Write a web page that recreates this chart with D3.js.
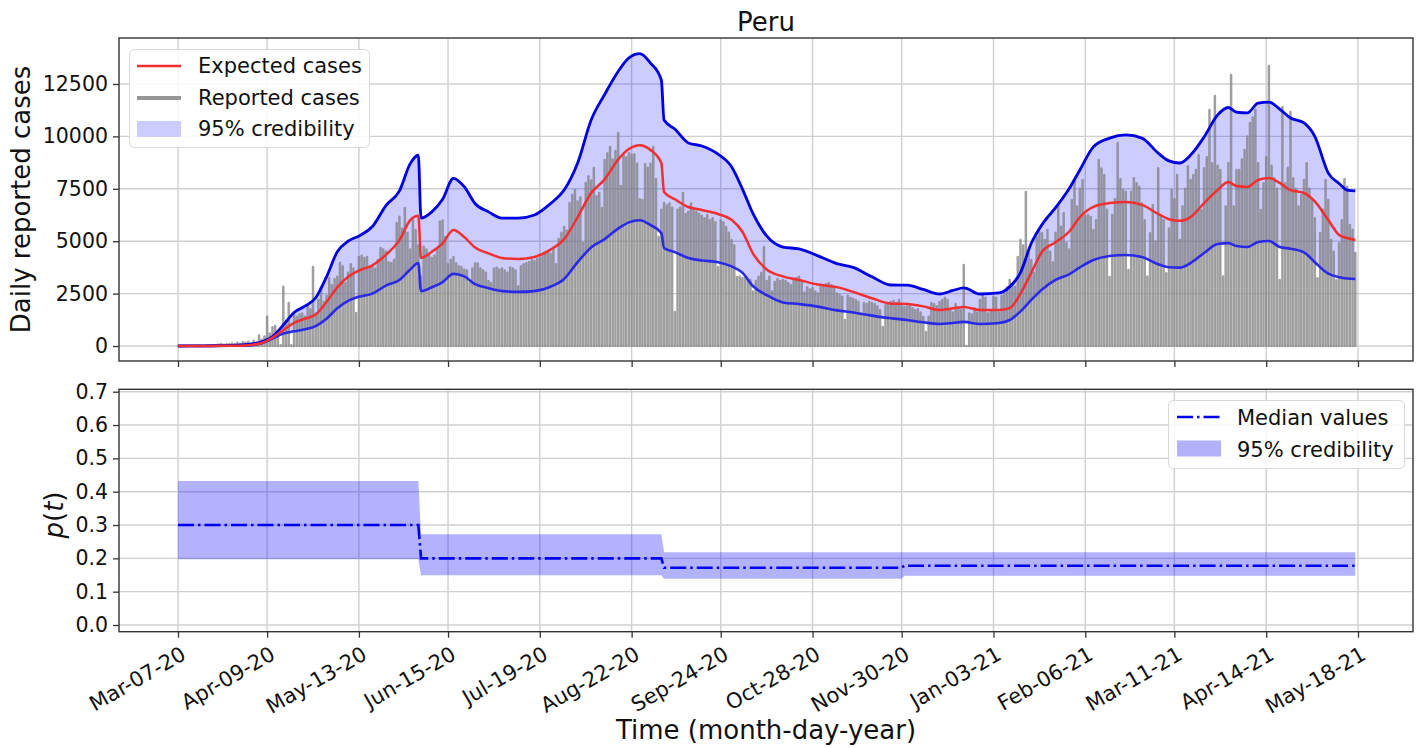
<!DOCTYPE html>
<html>
<head>
<meta charset="utf-8">
<script src="https://cdn.jsdelivr.net/npm/d3@7"></script>
<style>
  body { margin: 0; background: #fff; }
  svg { font-family: 'DejaVu Sans', sans-serif; }
</style>
</head>
<body>
<div id="graf"></div>
<script>
// day 0 = Mar-07-2020
const startDay = Date.UTC(2020, 2, 7)
const day = d => new Date(startDay + d * 864e5)

const tickLabels = ['Mar-07-20', 'Apr-09-20', 'May-13-20', 'Jun-15-20', 'Jul-19-20', 'Aug-22-20', 'Sep-24-20',
  'Oct-28-20', 'Nov-30-20', 'Jan-03-21', 'Feb-06-21', 'Mar-11-21', 'Apr-14-21', 'May-18-21']
const caseTicks = [0, 2500, 5000, 7500, 10000, 12500]
const pTicks = [0, 0.1, 0.2, 0.3, 0.4, 0.5, 0.6, 0.7]

// daily reported cases, one value per day from Mar-07-20
const reported = [
  1, 0, 2, 2, 5, 2, 5, 10, 11, 14,
  15, 31, 28, 40, 50, 70, 90, 60, 80, 100,
  120, 90, 150, 100, 180, 150, 200, 120, 250, 180,
  500, 300, 450, 1400, 600, 900, 950, 700, 30, 2830,
  1200, 2050, 40, 1450, 1400, 1500, 1550, 1400, 1950, 1750,
  3770, 1550, 2200, 2800, 2100, 2400, 3250, 2900, 3200, 3300,
  3960, 3800, 3000, 3500, 3900, 3700, 1570, 4250, 4300, 4200,
  4250, 3770, 3800, 3700, 4100, 4670, 4600, 4500, 4000, 3950,
  4100, 5870, 6170, 5600, 6580, 5400, 4600, 6000, 5530, 4800,
  3310, 4730, 4600, 4300, 4200, 4300, 4600, 5930, 5990, 5200,
  3900, 4100, 4250, 3940, 3800, 3770, 3650, 3600, 3000, 3700,
  3940, 3940, 3700, 3600, 3500, 3100, 3000, 3700, 3750, 3650,
  3700, 3600, 3500, 3750, 3700, 3600, 2850, 3800, 3900, 3950,
  4000, 4100, 4050, 4150, 4200, 4300, 4440, 4500, 4400, 4700,
  3900, 5100, 5400, 5680, 5500, 6820, 7200, 7440, 6900, 7100,
  4910, 7780, 8100, 7900, 8490, 7150, 7300, 6580, 8870, 9200,
  9500, 8900, 9300, 10160, 7630, 9110, 9000, 9200, 9100, 9150,
  8700, 7000, 6970, 8680, 8500, 8700, 9500, 7950, 5200, 6500,
  6820, 6700, 6800, 6600, 1620, 6500, 6600, 7300, 6300, 6400,
  6800, 6500, 6400, 6300, 6200, 6100, 6250, 6000, 6100, 5900,
  3770, 6000, 5900, 5680, 5400, 5060, 4800, 3290, 3300, 3250,
  3300, 3200, 3150, 2600, 3100, 3300, 3500, 4720, 3100, 3300,
  2600, 3050, 3200, 3100, 3150, 3100, 3000, 2900, 3200, 3250,
  3300, 3100, 2550, 2800, 2700, 2750, 2600, 2500, 2800, 2900,
  2950, 3000, 2900, 2800, 2500, 2450, 2350, 1240, 2400, 2300,
  2250, 2200, 2100, 1550, 2050, 2000, 2100, 2050, 2000, 1900,
  1700, 910, 1950, 2000, 2100, 2150, 2050, 2200, 1900, 1850,
  1880, 1900, 1800, 1700, 1750, 1600, 1380, 670, 1400, 2050,
  2000, 1900, 2100, 2200, 2300, 2200, 1700, 1600, 2000, 1800,
  1700, 3860, 0, 1550, 1500, 1800, 1600, 2200, 2400, 2300,
  1550, 1650, 2350, 2300, 1600, 2400, 2500, 2800, 3150, 2900,
  2830, 4250, 5060, 4800, 7350, 4440, 4100, 3500, 5200, 5440,
  5380, 5060, 5530, 4500, 4000, 5400, 6730, 5690, 6330, 4900,
  4600, 6970, 7920, 6650, 7500, 7920, 6200, 6250, 6150, 5530,
  6000, 8870, 8470, 8160, 6500, 3290, 6250, 7000, 9690, 7950,
  7440, 7360, 3630, 7360, 8000, 7760, 7600, 6800, 6000, 3310,
  5380, 6730, 4980, 8480, 6250, 6000, 3470, 5610, 7440, 7000,
  8160, 5060, 6650, 7500, 8570, 7920, 8160, 8400, 9110, 6490,
  8480, 9000, 11260, 8720, 11930, 8600, 8400, 3310, 6650, 8720,
  12930, 6650, 8400, 8400, 8900, 9350, 9990, 10640, 10900, 11260,
  8720, 6490, 7760, 9000, 13360, 8600, 8000, 7500, 3150, 11400,
  7760, 8500, 11160, 8000, 7500, 6650, 7200, 7920, 8720, 7500,
  6970, 6090, 3230, 5380, 6500, 7920, 6970, 5060, 4500, 3150,
  4900, 6000, 7950, 7600, 5770, 5530, 4440
]

// model curves, read at these day offsets
const bandDays = [0, 10, 20, 26, 31, 35, 39, 43, 47, 51, 55, 59, 63, 67, 72, 77, 82, 86, 89, 90,
  94, 98, 102, 106, 110, 115, 120, 126, 132, 138, 143, 148, 153, 158, 163, 167, 171, 175, 179, 180,
  184, 189, 194, 200, 205, 209, 213, 218, 224, 230, 237, 244, 250, 257, 264, 270, 276, 282, 287, 291,
  297, 304, 308, 312, 316, 320, 325, 330, 334, 339, 345, 351, 357, 363, 367, 371, 375, 380, 385, 389,
  392, 396, 400, 404, 408, 412, 417, 421, 426, 430, 433, 436]
const upperBand = [0, 10, 30, 80, 200, 450, 1000, 1600, 1900, 2300, 3300, 4500, 5000, 5250, 5700, 6700, 7400, 8700, 9100, 6100,
  6400, 7000, 8000, 7600, 6800, 6400, 6100, 6100, 6250, 6800, 7440, 8730, 10780, 12000, 13100, 13750, 13950, 13500, 12690, 10780,
  10350, 9690, 9540, 9150, 8550, 7500, 6300, 5250, 4720, 4630, 4300, 3930, 3750, 3300, 2910, 2900, 2700, 2480, 2650, 2770,
  2480, 2530, 2820, 3500, 4900, 5800, 6600, 7500, 8400, 9500, 9920, 10070, 9920, 9200, 8830, 8730, 9110, 9970, 11020, 11380,
  11160, 11120, 11590, 11640, 11300, 10880, 10640, 10000, 8250, 7750, 7440, 7400]
const expected = [0, 5, 15, 40, 140, 400, 760, 1100, 1300, 1500, 2100, 2800, 3300, 3600, 3850, 4350, 5050, 6010, 6220, 4200,
  4500, 4900, 5530, 5200, 4700, 4420, 4200, 4150, 4250, 4600, 5100, 6150, 7300, 7950, 8900, 9400, 9580, 9350, 8730, 7350,
  7000, 6630, 6490, 6300, 6020, 5450, 4400, 3650, 3320, 3150, 2930, 2810, 2580, 2280, 2020, 2000, 1890, 1720, 1800, 1860,
  1720, 1720, 1810, 2500, 3500, 4500, 4950, 5450, 6150, 6640, 6820, 6870, 6730, 6300, 6050, 5970, 6150, 6820, 7440, 7820,
  7630, 7590, 7920, 8020, 7780, 7440, 7300, 6900, 6010, 5300, 5150, 5060]
const lowerBand = [0, 3, 10, 30, 130, 350, 600, 700, 800, 950, 1300, 1800, 2150, 2350, 2500, 2880, 3150, 3650, 3960, 2620,
  2800, 3050, 3440, 3320, 2950, 2760, 2620, 2580, 2620, 2830, 3200, 4000, 4700, 5100, 5600, 5900, 6000, 5770, 5390, 4680,
  4480, 4200, 4080, 4000, 3800, 3500, 2850, 2430, 2080, 2000, 1880, 1700, 1600, 1450, 1320, 1240, 1130, 1050, 1100, 1150,
  1050, 1100, 1240, 1650, 2200, 2700, 3150, 3420, 3750, 4100, 4290, 4340, 4250, 3900, 3760, 3740, 3960, 4440, 4870, 4910,
  4770, 4720, 4960, 5010, 4720, 4640, 4470, 4000, 3450, 3280, 3220, 3200]

// reporting probability p(t), piecewise constant
const pStart = [0, 90, 180, 269]
const pEnd = [89, 179, 268, 436]
const pMedian = [0.30, 0.20, 0.172, 0.178]
const pLow = [0.197, 0.149, 0.139, 0.148]
const pHigh = [0.432, 0.272, 0.218, 0.218]

const W = 1417, H = 748
const left = 119, right = 1413
const top1 = 38, bot1 = 361
const top2 = 389.3, bot2 = 631.7

const svg = d3.select('#graf').append('svg')
  .attr('width', W).attr('height', H)

const x = d3.scaleUtc()
  .domain([day(-21.85), day(457.37)])
  .range([left, right])

const parseTick = d3.utcParse('%b-%d-%y')
const tickDates = tickLabels.map(parseTick)

const yTop = d3.scaleLinear().domain([-715.6, 14694.7]).range([bot1, top1])
const yBot = d3.scaleLinear().domain([-0.0201, 0.7072]).range([bot2, top2])

const gridColor = '#d0d0d0'

function grid(yScale, ticks, y0, y1) {
  const g = svg.append('g')
  g.selectAll('line.vx').data(tickDates).join('line')
    .attr('x1', d => x(d)).attr('x2', d => x(d))
    .attr('y1', y0).attr('y2', y1)
    .attr('stroke', gridColor).attr('stroke-width', 1.4)
  g.selectAll('line.hy').data(ticks).join('line')
    .attr('x1', left).attr('x2', right)
    .attr('y1', d => yScale(d)).attr('y2', d => yScale(d))
    .attr('stroke', gridColor).attr('stroke-width', 1.4)
}

// ---------- top panel ----------
const bandData = bandDays.map((d, i) => ({ d, up: upperBand[i], ex: expected[i], lo: lowerBand[i] }))

grid(yTop, caseTicks, top1, bot1)

svg.append('path')
  .datum(bandData)
  .attr('fill', '#0000ff').attr('fill-opacity', 0.2)
  .attr('d', d3.area()
    .curve(d3.curveMonotoneX)
    .x(d => x(day(d.d)))
    .y0(d => yTop(d.lo))
    .y1(d => yTop(d.up)))

svg.append('g').selectAll('line').data(reported).join('line')
  .attr('x1', (d, i) => x(day(i)))
  .attr('x2', (d, i) => x(day(i)))
  .attr('y1', yTop(0))
  .attr('y2', d => yTop(d))
  .attr('stroke', '#808080')
  .attr('stroke-width', 2.5)
  .attr('stroke-linecap', 'round')
  .attr('opacity', 0.75)

const curveLine = key => d3.line()
  .curve(d3.curveMonotoneX)
  .x(d => x(day(d.d)))
  .y(d => yTop(d[key]))

svg.append('path').datum(bandData)
  .attr('fill', 'none').attr('stroke', '#2a2ae6').attr('stroke-width', 2.6)
  .attr('d', curveLine('lo'))
svg.append('path').datum(bandData)
  .attr('fill', 'none').attr('stroke', '#0000e0').attr('stroke-width', 2.8)
  .attr('d', curveLine('up'))
svg.append('path').datum(bandData)
  .attr('fill', 'none').attr('stroke', '#f03030').attr('stroke-width', 2.5)
  .attr('d', curveLine('ex'))

svg.append('rect')
  .attr('x', left).attr('y', top1).attr('width', right - left).attr('height', bot1 - top1)
  .attr('fill', 'none').attr('stroke', '#333').attr('stroke-width', 1.4)

function styleAxis(g) {
  g.select('.domain').remove()
  g.selectAll('.tick line').attr('stroke', '#333').attr('stroke-width', 1.3)
  g.selectAll('.tick text').attr('fill', '#111').style('font-size', '20.5px')
    .style('font-family', "'DejaVu Sans', sans-serif")
}

svg.append('g')
  .attr('transform', `translate(${left},0)`)
  .call(d3.axisLeft(yTop).tickValues(caseTicks).tickSize(6).tickPadding(5).tickFormat(d3.format('d')))
  .call(styleAxis)

svg.append('g')
  .attr('transform', `translate(0,${bot1})`)
  .call(d3.axisBottom(x).tickValues(tickDates).tickSize(6).tickFormat(''))
  .call(styleAxis)

// legend top
const leg1 = svg.append('g')
leg1.append('rect')
  .attr('x', 129.5).attr('y', 49.5).attr('width', 240).attr('height', 98).attr('rx', 5)
  .attr('fill', '#fff').attr('fill-opacity', 0.85).attr('stroke', '#d8d8d8')
leg1.append('line').attr('x1', 137).attr('x2', 181).attr('y1', 66).attr('y2', 66)
  .attr('stroke', '#f03030').attr('stroke-width', 2.5)
leg1.append('line').attr('x1', 137).attr('x2', 181).attr('y1', 98).attr('y2', 98)
  .attr('stroke', '#969696').attr('stroke-width', 4)
leg1.append('rect').attr('x', 137).attr('y', 121).attr('width', 44).attr('height', 16)
  .attr('fill', '#ccccff')
leg1.selectAll('text').data(['Expected cases', 'Reported cases', '95% credibility']).join('text')
  .attr('x', 198).attr('y', (d, i) => [73, 105, 136][i])
  .style('font-size', '21px').attr('fill', '#111')
  .text(d => d)

// ---------- bottom panel ----------
grid(yBot, pTicks, top2, bot2)

const pBand = []
const pLine = []
pStart.forEach((s, i) => {
  pBand.push({ d: s, lo: pLow[i], hi: pHigh[i] }, { d: pEnd[i], lo: pLow[i], hi: pHigh[i] })
  pLine.push({ d: s, v: pMedian[i] }, { d: pEnd[i], v: pMedian[i] })
})

svg.append('path').datum(pBand)
  .attr('fill', '#0000ff').attr('fill-opacity', 0.3)
  .attr('d', d3.area()
    .x(d => x(day(d.d)))
    .y0(d => yBot(d.lo))
    .y1(d => yBot(d.hi)))

svg.append('path').datum(pLine)
  .attr('fill', 'none').attr('stroke', '#0000ee').attr('stroke-width', 2.6)
  .attr('stroke-dasharray', '16,4,2.5,4')
  .attr('d', d3.line().x(d => x(day(d.d))).y(d => yBot(d.v)))

svg.append('rect')
  .attr('x', left).attr('y', top2).attr('width', right - left).attr('height', bot2 - top2)
  .attr('fill', 'none').attr('stroke', '#333').attr('stroke-width', 1.4)

svg.append('g')
  .attr('transform', `translate(${left},0)`)
  .call(d3.axisLeft(yBot).tickValues(pTicks).tickSize(6).tickPadding(5).tickFormat(d3.format('.1f')))
  .call(styleAxis)

svg.append('g')
  .attr('transform', `translate(0,${bot2})`)
  .call(d3.axisBottom(x).tickValues(tickDates).tickSize(6).tickFormat((d, i) => tickLabels[i]))
  .call(styleAxis)
  .selectAll('.tick text')
    .style('font-size', '21px')
    .attr('x', 0).attr('y', 0).attr('dy', '0.75em')
    .attr('text-anchor', 'end')
    .attr('transform', 'translate(1,13) rotate(-30)')

// legend bottom
const leg2 = svg.append('g')
leg2.append('rect')
  .attr('x', 1168.5).attr('y', 400.5).attr('width', 236).attr('height', 68).attr('rx', 5)
  .attr('fill', '#fff').attr('fill-opacity', 0.85).attr('stroke', '#d8d8d8')
leg2.append('line').attr('x1', 1177).attr('x2', 1221).attr('y1', 417).attr('y2', 417)
  .attr('stroke', '#0000ee').attr('stroke-width', 2.6).attr('stroke-dasharray', '16,4,2.5,4')
leg2.append('rect').attr('x', 1177).attr('y', 440.5).attr('width', 44).attr('height', 16)
  .attr('fill', '#b2b2fa')
leg2.selectAll('text').data(['Median values', '95% credibility']).join('text')
  .attr('x', 1237).attr('y', (d, i) => [425, 456.5][i])
  .style('font-size', '21px').attr('fill', '#111')
  .text(d => d)

// titles and labels
svg.append('text')
  .attr('x', (left + right) / 2).attr('y', 31)
  .attr('text-anchor', 'middle').style('font-size', '26px').attr('fill', '#111')
  .text('Peru')

svg.append('text')
  .attr('transform', `translate(30,${(top1 + bot1) / 2}) rotate(-90)`)
  .attr('text-anchor', 'middle').style('font-size', '26px').attr('fill', '#111')
  .text('Daily reported cases')

const pLabel = svg.append('text')
  .attr('transform', `translate(63,515) rotate(-90)`)
  .attr('text-anchor', 'middle').style('font-size', '26px').attr('fill', '#111')
pLabel.append('tspan').style('font-style', 'italic').text('p')
pLabel.append('tspan').text('(')
pLabel.append('tspan').style('font-style', 'italic').text('t')
pLabel.append('tspan').text(')')

svg.append('text')
  .attr('x', (left + right) / 2).attr('y', 739)
  .attr('text-anchor', 'middle').style('font-size', '26px').attr('fill', '#111')
  .text('Time (month-day-year)')
</script>
</body>
</html>
